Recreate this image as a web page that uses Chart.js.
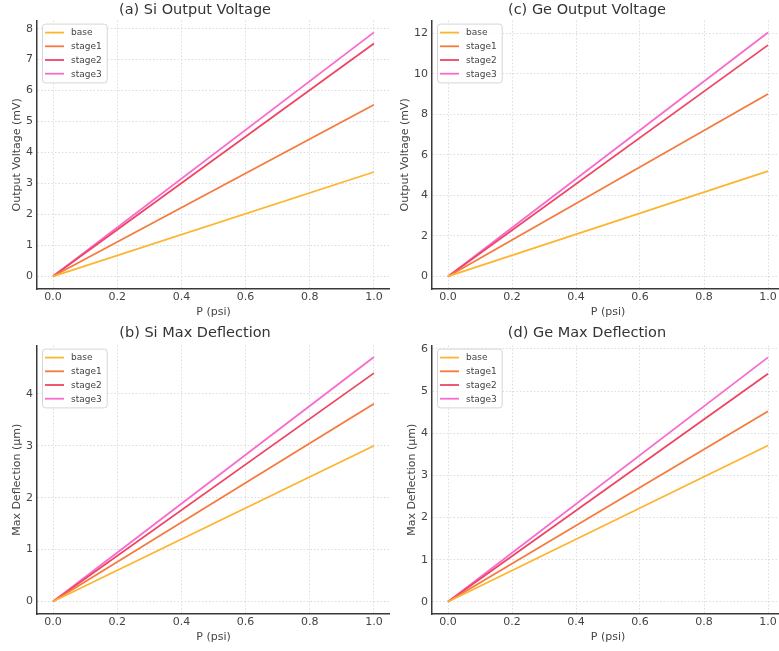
<!DOCTYPE html>
<html lang="en">
<head>
    <meta charset="UTF-8">
    <title>si_ge_sensor</title>
    <script src="https://cdn.jsdelivr.net/npm/chart.js"></script>
    <style>
        body { margin: 0; background: #fff; overflow: hidden; width: 779px; height: 651px; position: relative; }
        canvas { position: absolute; }
    </style>
</head>
<body>
    <canvas id="siVoltage" width="390" height="320" style="left:0;top:0"></canvas>
    <canvas id="geVoltage" width="394" height="320" style="left:390px;top:0"></canvas>
    <canvas id="siDefl" width="390" height="320" style="left:0;top:325px"></canvas>
    <canvas id="geDefl" width="394" height="320" style="left:390px;top:325px"></canvas>
    <script>
        // data (straight lines from 0 psi to 1 psi)
        const pressure = [0, 1];
        const seriesNames = ['base', 'stage1', 'stage2', 'stage3'];
        const seriesColors = ['#fdb52f', '#f57a3e', '#ee4565', '#f76bcd'];

        const siVoltage = [[0, 3.37], [0, 5.54], [0, 7.52], [0, 7.88]];
        const geVoltage = [[0, 5.19], [0, 9.0], [0, 11.41], [0, 12.03]];
        const siDeflection = [[0, 3.0], [0, 3.81], [0, 4.40], [0, 4.71]];
        const geDeflection = [[0, 3.71], [0, 4.52], [0, 5.41], [0, 5.80]];

        const xTicks = [0, 0.2, 0.4, 0.6, 0.8, 1.0];
        const siVoltageTicks = [0, 1, 2, 3, 4, 5, 6, 7, 8];
        const geVoltageTicks = [0, 2, 4, 6, 8, 10, 12];
        const siDeflTicks = [0, 1, 2, 3, 4];
        const geDeflTicks = [0, 1, 2, 3, 4, 5, 6];

        const FONT = '"DejaVu Sans", "Liberation Sans", sans-serif';

        // matplotlib-like legend drawn inside the plot, top-left
        const insideLegend = {
            id: 'insideLegend',
            afterDraw(chart) {
                const ctx = chart.ctx, a = chart.chartArea;
                const ds = chart.data.datasets;
                const x0 = a.left + 5, y0 = a.top + 3, rowH = 13.7;
                ctx.save();
                ctx.font = '9px ' + FONT;
                let w = 0;
                ds.forEach(d => { w = Math.max(w, ctx.measureText(d.label).width); });
                const bw = 29 + w + 5, bh = rowH * ds.length + 4;
                ctx.fillStyle = 'rgba(255,255,255,0.8)';
                ctx.strokeStyle = '#d6d6d6';
                ctx.lineWidth = 1;
                ctx.beginPath();
                ctx.roundRect(x0 + 0.5, y0 + 0.5, bw, bh, 3);
                ctx.fill();
                ctx.stroke();
                ds.forEach((d, i) => {
                    const y = y0 + 9 + i * rowH;
                    ctx.strokeStyle = d.borderColor;
                    ctx.lineWidth = 1.8;
                    ctx.beginPath();
                    ctx.moveTo(x0 + 3, y);
                    ctx.lineTo(x0 + 22, y);
                    ctx.stroke();
                    ctx.fillStyle = '#444';
                    ctx.textBaseline = 'middle';
                    ctx.fillText(d.label, x0 + 29, y + 0.5);
                });
                ctx.restore();
            }
        };

        function makePanel(id, title, yTitle, series, yTicks, yMin, yMax, yWidth, yTitlePad, titlePad) {
            const datasets = series.map((vals, i) => ({
                label: seriesNames[i],
                data: pressure.map((p, j) => ({ x: p, y: vals[j] })),
                borderColor: seriesColors[i],
                borderWidth: 1.8,
                pointRadius: 0,
                fill: false
            }));
            new Chart(document.getElementById(id), {
                type: 'line',
                data: { datasets: datasets },
                plugins: [insideLegend],
                options: {
                    responsive: false,
                    animation: false,
                    layout: { padding: 0 },
                    plugins: {
                        legend: { display: false },
                        tooltip: { enabled: false },
                        title: {
                            display: true,
                            text: title,
                            color: '#333',
                            font: { family: FONT, size: 14.5, weight: 'normal' },
                            padding: titlePad
                        }
                    },
                    scales: {
                        x: {
                            type: 'linear',
                            min: -0.05,
                            max: 1.05,
                            afterBuildTicks: s => { s.ticks = xTicks.map(v => ({ value: v })); },
                            afterFit: s => { s.height = 31; },
                            ticks: {
                                callback: v => Number(v).toFixed(1),
                                color: '#444',
                                padding: 2,
                                maxRotation: 0,
                                font: { family: FONT, size: 11 }
                            },
                            grid: { color: '#d4d4d4', lineWidth: 0.8, drawTicks: false },
                            border: { display: true, color: '#3a3a3a', width: 1.5, dash: [1.5, 2] },
                            title: {
                                display: true,
                                text: 'P (psi)',
                                color: '#444',
                                font: { family: FONT, size: 11 },
                                padding: { top: 0, bottom: 1.4 }
                            }
                        },
                        y: {
                            type: 'linear',
                            min: yMin,
                            max: yMax,
                            afterBuildTicks: s => { s.ticks = yTicks.map(v => ({ value: v })); },
                            afterFit: s => { s.width = yWidth; },
                            ticks: {
                                callback: v => String(v),
                                color: '#444',
                                padding: 4,
                                font: { family: FONT, size: 11 }
                            },
                            grid: { color: '#d4d4d4', lineWidth: 0.8, drawTicks: false },
                            border: { display: true, color: '#3a3a3a', width: 1.5, dash: [1.5, 2] },
                            title: {
                                display: true,
                                text: yTitle,
                                color: '#444',
                                font: { family: FONT, size: 11 },
                                padding: { top: yTitlePad, bottom: 0 }
                            }
                        }
                    }
                }
            });
        }

        makePanel('siVoltage', '(a) Si Output Voltage', 'Output Voltage (mV)', siVoltage,
            siVoltageTicks, -0.41, 8.26, 37, 10.4, { top: 1.6, bottom: 1.6 });
        makePanel('geVoltage', '(c) Ge Output Voltage', 'Output Voltage (mV)', geVoltage,
            geVoltageTicks, -0.62, 12.62, 42, 8.4, { top: 1.6, bottom: 1.6 });
        makePanel('siDefl', '(b) Si Max Deflection', 'Max Deflection (\u03bcm)', siDeflection,
            siDeflTicks, -0.24, 4.93, 37, 10.4, { top: 0, bottom: 3.2 });
        makePanel('geDefl', '(d) Ge Max Deflection', 'Max Deflection (\u03bcm)', geDeflection,
            geDeflTicks, -0.29, 6.08, 42, 15.4, { top: 0, bottom: 3.2 });
    </script>
</body>
</html>
